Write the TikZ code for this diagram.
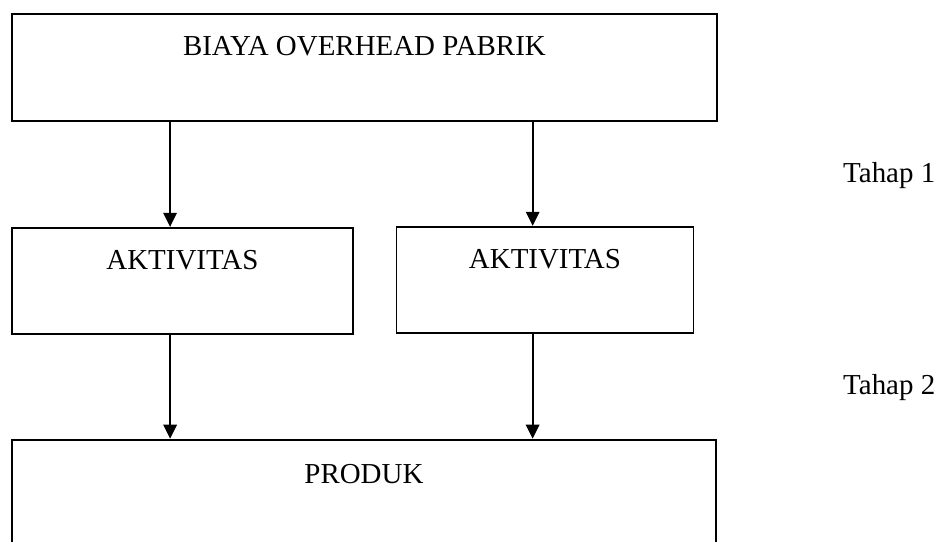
\documentclass[tikz,border=0pt]{standalone}
\usepackage{fontspec}
\setmainfont{Liberation Serif}
\usepackage{tikz}
\usetikzlibrary{arrows.meta, positioning}
\tikzset{
    stagebox/.style={rectangle, draw=black, line width=1.6pt, inner sep=0pt, text height=1.2cm, text depth=1.9cm, text centered, font=\fontsize{24.7}{30}\selectfont},
    stagelabel/.style={anchor=west, inner sep=0pt, font=\fontsize{24.7}{30}\selectfont},
    line/.style={draw, -{Triangle[length=0.42cm, width=0.4cm]}, line width=1.6pt, color=black}
}

\begin{document}
\begin{tikzpicture}[node distance=3.15cm and 1.25cm]
        \useasboundingbox (0,0) rectangle (28.11,-16.26);

        \node [stagebox, anchor=north west, minimum width=21.15cm, minimum height=3.21cm] (overhead) at (0.33,-0.39) {BIAYA OVERHEAD PABRIK};

        \node [stagebox, below=of overhead.south west, anchor=north west, minimum width=10.23cm, minimum height=3.18cm] (aktkiri) {AKTIVITAS};

        \node [stagebox, right=of aktkiri.north east, anchor=north west, yshift=0.03cm, minimum width=8.91cm, minimum height=3.18cm] (aktkanan) {AKTIVITAS};

        \node [stagebox, below=3.12cm of aktkiri.south west, anchor=north west, minimum width=21.12cm, minimum height=3.3cm] (produk) {PRODUK};

        \node [stagelabel] (tahapsatu) at (25.29,-5.28) {Tahap 1};
        \node [stagelabel] (tahapdua) at (25.29,-11.64) {Tahap 2};

        % Draws
        \draw [line] ([xshift=-0.37cm]aktkiri.north |- overhead.south) -- ([xshift=-0.37cm]aktkiri.north);
        \draw [line] ([xshift=-0.37cm]aktkanan.north |- overhead.south) -- ([xshift=-0.37cm]aktkanan.north);
        \draw [line] ([xshift=-0.37cm]aktkiri.south) -- ([xshift=-0.37cm]aktkiri.south |- produk.north);
        \draw [line] ([xshift=-0.37cm]aktkanan.south) -- ([xshift=-0.37cm]aktkanan.south |- produk.north);

    \end{tikzpicture}
\end{document}
